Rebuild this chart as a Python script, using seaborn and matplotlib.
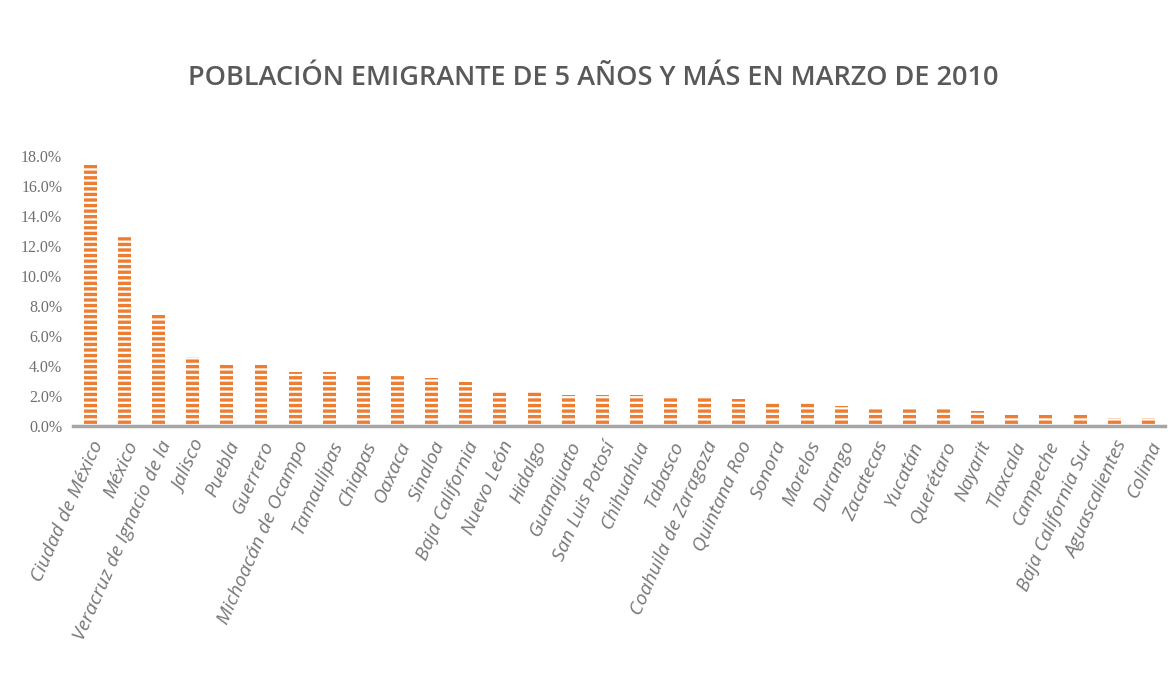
import matplotlib
matplotlib.use("Agg")
import matplotlib.pyplot as plt
import seaborn as sns
import pandas as pd
from matplotlib.ticker import FuncFormatter

estados = ["Ciudad de México", "México", "Veracruz de Ignacio de la", "Jalisco", "Puebla",
           "Guerrero", "Michoacán de Ocampo", "Tamaulipas", "Chiapas", "Oaxaca", "Sinaloa",
           "Baja California", "Nuevo León", "Hidalgo", "Guanajuato", "San Luis Potosí",
           "Chihuahua", "Tabasco", "Coahuila de Zaragoza", "Quintana Roo", "Sonora",
           "Morelos", "Durango", "Zacatecas", "Yucatán", "Querétaro", "Nayarit", "Tlaxcala",
           "Campeche", "Baja California Sur", "Aguascalientes", "Colima"]
porcentaje = [17.5, 12.7, 7.5, 4.6, 4.2, 4.2, 3.6, 3.6, 3.4, 3.4, 3.2, 2.95, 2.3, 2.3,
              2.05, 2.05, 2.05, 1.85, 1.85, 1.8, 1.6, 1.6, 1.3, 1.15, 1.15, 1.15, 1.0,
              0.8, 0.8, 0.8, 0.5, 0.5]
titulo = "POBLACIÓN EMIGRANTE DE 5 AÑOS Y MÁS EN MARZO DE 2010"

df = pd.DataFrame({"estado": estados, "pct": porcentaje})

sns.set_theme(style="white")
plt.rcParams["font.family"] = ["Open Sans", "DejaVu Sans"]
plt.rcParams["hatch.linewidth"] = 1.6

fig = plt.figure(figsize=(11.73, 6.98), dpi=100)
ax = fig.add_axes([0.0625, 0.39, 0.931, 0.3865])

sns.barplot(data=df, x="estado", y="pct", color="#ED7D31", width=0.38,
            saturation=1, ax=ax)
for p in ax.patches:
    p.set_hatch("---")
    p.set_edgecolor("white")
    p.set_linewidth(0)

ax.set_ylim(0, 18)
ax.set_yticks(range(0, 19, 2))
ax.yaxis.set_major_formatter(FuncFormatter(lambda v, _: f"{v:.1f}%"))
ax.set_xlabel("")
ax.set_ylabel("")
for s in ["top", "right", "left"]:
    ax.spines[s].set_visible(False)
ax.spines["bottom"].set_color("#a6a6a6")
ax.spines["bottom"].set_linewidth(2.5)
ax.tick_params(axis="y", length=0, pad=8, labelsize=11.5, labelcolor="#6f6f6f")
ax.tick_params(axis="x", length=0, pad=9, labelsize=14, labelcolor="#777777")
for lab in ax.get_yticklabels():
    lab.set_family(["Liberation Serif", "DejaVu Serif"])
plt.setp(ax.get_xticklabels(), rotation=66, ha="right", rotation_mode="anchor",
         fontstyle="italic")

fig.text(0.506, 0.888, titulo, ha="center", va="center", fontsize=19.5,
         fontweight="semibold", color="#595959")

fig.savefig("out.png", dpi=100, facecolor="white")
